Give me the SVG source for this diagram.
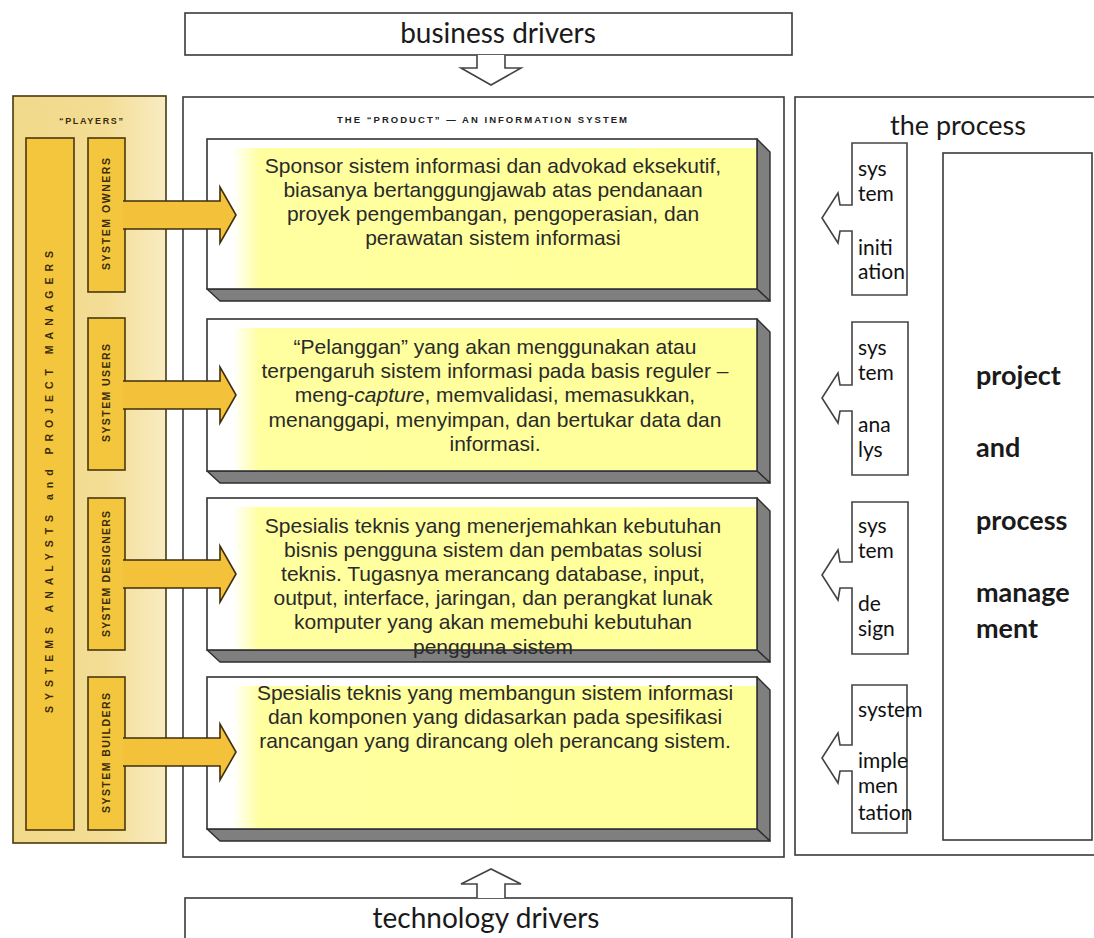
<svg xmlns="http://www.w3.org/2000/svg" width="1094" height="938" viewBox="0 0 1094 938">
<defs>
<linearGradient id="yel" x1="0" y1="0" x2="1" y2="0">
<stop offset="0" stop-color="#ffffff"/>
<stop offset="0.05" stop-color="#ffffa0"/>
<stop offset="1" stop-color="#ffff99"/>
</linearGradient>
<linearGradient id="tan" x1="0" y1="0" x2="1" y2="0">
<stop offset="0" stop-color="#f1d98a"/>
<stop offset="0.6" stop-color="#f3dd95"/>
<stop offset="1" stop-color="#f8ecc2"/>
</linearGradient>
<style>
.frame{fill:#fff;stroke:#3a3a3a;stroke-width:1.6}
.front{fill:#fff;stroke:#333;stroke-width:1.6}
.bevel{fill:#7f7f7f;stroke:#2e2e2e;stroke-width:1.4;stroke-linejoin:round}
.yel{fill:url(#yel)}
.desc{font-family:"Liberation Sans",Arial,sans-serif;font-size:21px;fill:#2a2a2a;text-anchor:middle}
.gold{fill:#f4c63e;stroke:#4a3810;stroke-width:1.6}
.arrow{fill:#f4c23a;stroke:#3e2f0c;stroke-width:1.6;stroke-linejoin:miter}
.vlab{font-family:"Liberation Sans",Arial,sans-serif;font-weight:bold;font-size:10.5px;fill:#3b2c08;text-anchor:middle}
.step{fill:#fff;stroke:#444;stroke-width:1.6;stroke-linejoin:miter}
.stxt{font-family:Lato,"Liberation Sans",sans-serif;font-size:21px;fill:#111}
.big{font-family:Lato,"Liberation Sans",sans-serif;font-size:28px;fill:#1a1a1a;text-anchor:middle}
.pm{font-family:Lato,"Liberation Sans",sans-serif;font-weight:bold;font-size:27px;fill:#1a1a1a}
.hollow{fill:#fff;stroke:#444;stroke-width:1.6;stroke-linejoin:miter}
</style>
</defs>
<rect width="1094" height="938" fill="#fff"/>

<g id="business-drivers">
<rect class="frame" x="185" y="13" width="607" height="42"/>
<text class="big" x="498" y="43">business drivers</text>
</g>

<g id="technology-drivers">
<rect class="frame" x="185" y="898" width="607" height="50"/>
<text class="big" x="486" y="928">technology drivers</text>
</g>

<g id="product">
<rect class="frame" x="183" y="97" width="601" height="760"/>
<text x="482" y="123" font-family="Liberation Sans, Arial, sans-serif" font-weight="bold" font-size="9.5px" fill="#222" text-anchor="middle" textLength="290" lengthAdjust="spacing">THE “PRODUCT” — AN INFORMATION SYSTEM</text>
</g>

<g id="box-owners">
<polygon class="bevel" points="757,139 770,152 770,301 757,289"/>
<polygon class="bevel" points="207,289 757,289 770,301 220,301"/>
<rect class="front" x="207" y="139" width="550" height="150"/>
<rect class="yel" x="233" y="148" width="523" height="140"/>
<text class="desc" x="493" y="173">Sponsor sistem informasi dan advokad eksekutif,</text>
<text class="desc" x="493" y="197">biasanya bertanggungjawab atas pendanaan</text>
<text class="desc" x="493" y="221">proyek pengembangan, pengoperasian, dan</text>
<text class="desc" x="493" y="245">perawatan sistem informasi</text>
</g>

<g id="box-users">
<polygon class="bevel" points="757,319 770,332 770,483 757,471"/>
<polygon class="bevel" points="207,471 757,471 770,483 220,483"/>
<rect class="front" x="207" y="319" width="550" height="152"/>
<rect class="yel" x="233" y="328" width="523" height="142"/>
<text class="desc" x="495" y="354">“Pelanggan” yang akan menggunakan atau</text>
<text class="desc" x="495" y="378">terpengaruh sistem informasi pada basis reguler –</text>
<text class="desc" x="495" y="402">meng-<tspan font-style="italic">capture</tspan>, memvalidasi, memasukkan,</text>
<text class="desc" x="495" y="427">menanggapi, menyimpan, dan bertukar data dan</text>
<text class="desc" x="495" y="451">informasi.</text>
</g>

<g id="box-designers">
<polygon class="bevel" points="757,498 770,511 770,662 757,650"/>
<polygon class="bevel" points="207,650 757,650 770,662 220,662"/>
<rect class="front" x="207" y="498" width="550" height="152"/>
<rect class="yel" x="233" y="507" width="523" height="142"/>
<text class="desc" x="493" y="533">Spesialis teknis yang menerjemahkan kebutuhan</text>
<text class="desc" x="493" y="557">bisnis pengguna sistem dan pembatas solusi</text>
<text class="desc" x="493" y="581">teknis. Tugasnya merancang database, input,</text>
<text class="desc" x="493" y="605">output, interface, jaringan, dan perangkat lunak</text>
<text class="desc" x="493" y="629">komputer yang akan memebuhi kebutuhan</text>
<text class="desc" x="493" y="654">pengguna sistem</text>
</g>

<g id="box-builders">
<polygon class="bevel" points="757,677 770,690 770,841 757,829"/>
<polygon class="bevel" points="207,829 757,829 770,841 220,841"/>
<rect class="front" x="207" y="677" width="550" height="152"/>
<rect class="yel" x="233" y="686" width="523" height="142"/>
<text class="desc" x="495" y="700">Spesialis teknis yang membangun sistem informasi</text>
<text class="desc" x="495" y="724">dan komponen yang didasarkan pada spesifikasi</text>
<text class="desc" x="495" y="748">rancangan yang dirancang oleh perancang sistem.</text>
</g>

<g id="players">
<rect x="13" y="96" width="153" height="747" fill="url(#tan)" stroke="#4a3810" stroke-width="1.6"/>
<text x="91" y="124" font-family="Liberation Sans, Arial, sans-serif" font-weight="bold" font-size="9px" fill="#3b2c08" text-anchor="middle" textLength="64" lengthAdjust="spacing">“PLAYERS”</text>
</g>

<g id="analysts-managers">
<rect class="gold" x="26" y="138" width="48" height="692"/>
<text class="vlab" transform="translate(53,482) rotate(-90)" textLength="462" lengthAdjust="spacing" font-size="9.5px">SYSTEMS ANALYSTS and PROJECT MANAGERS</text>
</g>

<g id="system-owners">
<rect class="gold" x="88" y="138" width="37" height="154"/>
<text class="vlab" transform="translate(110,214) rotate(-90)" textLength="112" lengthAdjust="spacing">SYSTEM OWNERS</text>
</g>
<g id="system-users">
<rect class="gold" x="88" y="318" width="37" height="152"/>
<text class="vlab" transform="translate(110,393) rotate(-90)" textLength="98" lengthAdjust="spacing">SYSTEM USERS</text>
</g>
<g id="system-designers">
<rect class="gold" x="88" y="498" width="37" height="152"/>
<text class="vlab" transform="translate(110,574) rotate(-90)" textLength="126" lengthAdjust="spacing">SYSTEM DESIGNERS</text>
</g>
<g id="system-builders">
<rect class="gold" x="88" y="677" width="37" height="153"/>
<text class="vlab" transform="translate(110,753) rotate(-90)" textLength="120" lengthAdjust="spacing">SYSTEM BUILDERS</text>
</g>

<g id="process">
<rect class="frame" x="795" y="97" width="310" height="758"/>
<text x="890" y="135" font-family="Lato, 'Liberation Sans', sans-serif" font-size="27px" fill="#1a1a1a">the process</text>
</g>

<g id="project-process-management">
<rect class="frame" x="943" y="153" width="149" height="687"/>
<text class="pm" x="976" y="385">project</text>
<text class="pm" x="976" y="457">and</text>
<text class="pm" x="976" y="530">process</text>
<text class="pm" x="976" y="602">manage</text>
<text class="pm" x="976" y="638">ment</text>
</g>

<g id="step-initiation">
<path class="step" d="M852,143 H907 V295 H852 V231 H840 L838,243 L822,218 L838,193 L840,205 H852 Z"/>
<text class="stxt" x="858" y="176">sys</text>
<text class="stxt" x="858" y="201">tem</text>
<text class="stxt" x="858" y="255">initi</text>
<text class="stxt" x="858" y="279">ation</text>
</g>
<g id="step-analysis">
<path class="step" d="M852,322 H908 V475 H852 V411 H840 L838,423 L822,398 L838,373 L840,385 H852 Z"/>
<text class="stxt" x="858" y="355">sys</text>
<text class="stxt" x="858" y="380">tem</text>
<text class="stxt" x="858" y="432">ana</text>
<text class="stxt" x="858" y="457">lys</text>
</g>
<g id="step-design">
<path class="step" d="M852,502 H908 V654 H852 V588 H840 L838,600 L822,575 L838,550 L840,562 H852 Z"/>
<text class="stxt" x="858" y="533">sys</text>
<text class="stxt" x="858" y="558">tem</text>
<text class="stxt" x="858" y="611">de</text>
<text class="stxt" x="858" y="636">sign</text>
</g>
<g id="step-implementation">
<path class="step" d="M852,685 H907 V833 H852 V771 H840 L838,783 L822,758 L838,733 L840,745 H852 Z"/>
<text class="stxt" x="858" y="717">system</text>
<text class="stxt" x="858" y="768">imple</text>
<text class="stxt" x="858" y="793">men</text>
<text class="stxt" x="858" y="820">tation</text>
</g>

<g id="connectors">
<path class="hollow" d="M477,55 V68 H461 L491,85 L521,68 H505 V55"/>
<path class="hollow" d="M477,898 V884 H461 L491,869 L521,884 H505 V898"/>
<path class="arrow" d="M123,201 H220 V187 L236,215 L220,243 V229 H123"/>
<path class="arrow" d="M123,381 H220 V367 L236,395 L220,423 V409 H123"/>
<path class="arrow" d="M123,560 H220 V546 L236,574 L220,602 V588 H123"/>
<path class="arrow" d="M123,738 H220 V724 L236,752 L220,780 V766 H123"/>
</g>
</svg>
